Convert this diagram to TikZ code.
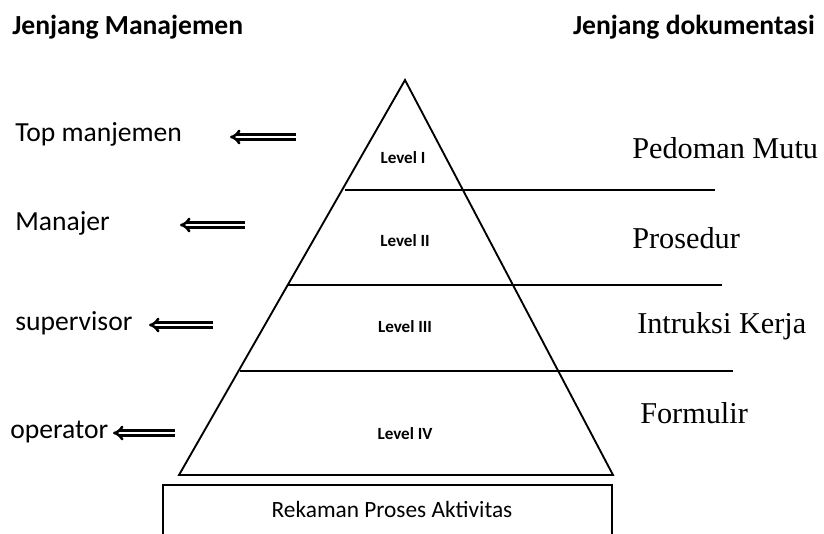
\documentclass[tikz,border=0pt]{standalone}
\usepackage{fontspec}
\setmainfont{Liberation Serif}
\newfontfamily\calfont{Carlito}
\usetikzlibrary{arrows.meta}
\begin{document}
\begin{tikzpicture}[x=0.75pt,y=-0.75pt,
  head/.style={font=\calfont\bfseries\fontsize{20.7}{24}\selectfont, anchor=west, inner sep=0pt},
  mgr/.style={font=\calfont\fontsize{20.7}{24}\selectfont, anchor=west, inner sep=0pt},
  doc/.style={font=\fontsize{22.7}{26}\selectfont, anchor=west, inner sep=0pt},
  lvl/.style={font=\calfont\bfseries\fontsize{12.8}{15}\selectfont, inner sep=0pt},
  hollow/.style={double, line width=1.9pt, double distance=1.6pt, -{Implies[length=9pt, width=13pt]}},
  edge/.style={line width=1.4pt},
  sep/.style={line width=1pt}]
\useasboundingbox (0,0) rectangle (824,533);
% pyramid
\coordinate (A) at (405,80);
\coordinate (BL) at (179,475);
\coordinate (BR) at (613,475);
\draw[edge, line join=miter] (A) -- (BL) -- (BR) -- cycle;
% separators
\draw[sep] (345,190) -- (715,190);
\draw[sep] (288,285) -- (722,285);
\draw[sep] (240,371) -- (733,371);
% box
\draw[line width=1pt] (163,545) -- (163,485) -- (612,485) -- (612,545);
\node[font=\calfont\fontsize{17.5}{20}\selectfont] (rek) at (392,509) {Rekaman Proses Aktivitas};
% level labels
\node[lvl] (l1) at (403,158) {Level I};
\node[lvl] (l2) at (405,241) {Level II};
\node[lvl] (l3) at (405,327) {Level III};
\node[lvl] (l4) at (405,434) {Level IV};
% headings
\node[head] (h1) at (12,27) {Jenjang Manajemen};
\node[head, anchor=east] (h2) at (815,27) {Jenjang dokumentasi};
% management labels
\node[mgr] (m1) at (15,134) {Top manjemen};
\node[mgr] (m2) at (15,223) {Manajer};
\node[mgr] (m3) at (15,323) {supervisor};
\node[mgr] (m4) at (10,432) {operator};
% arrows
\coordinate (a1s) at (296,137); \coordinate (a1e) at (230,137);
\coordinate (a2s) at (245,225); \coordinate (a2e) at (180,225);
\coordinate (a3s) at (213,325); \coordinate (a3e) at (149,325);
\coordinate (a4s) at (175,433); \coordinate (a4e) at (113,433);
\draw[hollow] (a1s) -- (a1e);
\draw[hollow] (a2s) -- (a2e);
\draw[hollow] (a3s) -- (a3e);
\draw[hollow] (a4s) -- (a4e);
% documentation labels
\node[doc] (d1) at (632,148) {Pedoman Mutu};
\node[doc] (d2) at (632,238) {Prosedur};
\node[doc] (d3) at (637,326) {Intruksi Kerja};
\node[doc] (d4) at (640,413) {Formulir};
\end{tikzpicture}
\end{document}
